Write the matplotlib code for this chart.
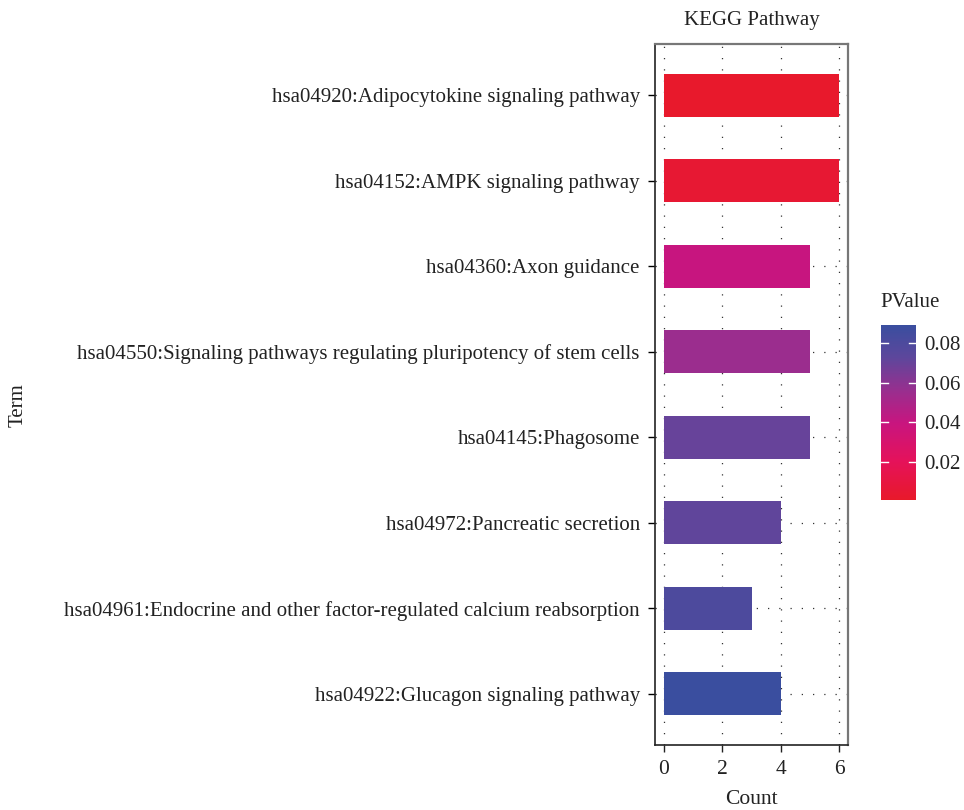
import numpy as np
import matplotlib
matplotlib.use("Agg")
import matplotlib.pyplot as plt
from matplotlib.colors import LinearSegmentedColormap, Normalize
from matplotlib.colorbar import ColorbarBase

plt.rcParams['font.family'] = ['Liberation Serif', 'DejaVu Serif']

terms = [
    "hsa04920:Adipocytokine signaling pathway",
    "hsa04152:AMPK signaling pathway",
    "hsa04360:Axon guidance",
    "hsa04550:Signaling pathways regulating pluripotency of stem cells",
    "hsa04145:Phagosome",
    "hsa04972:Pancreatic secretion",
    "hsa04961:Endocrine and other factor-regulated calcium reabsorption",
    "hsa04922:Glucagon signaling pathway",
]
counts = [6, 6, 5, 5, 5, 4, 3, 4]
pvalues = [0.002, 0.005, 0.040, 0.055, 0.070, 0.072, 0.080, 0.089]
p_ticks = [0.02, 0.04, 0.06, 0.08]

cmap = LinearSegmentedColormap.from_list("pv", [
    (0.0, "#E8192A"), (0.22, "#E5125A"), (0.44, "#C8157F"),
    (0.62, "#9A2E8E"), (0.82, "#5C479C"), (1.0, "#3A4E9F")])
norm = Normalize(vmin=0.001, vmax=0.089)

fig = plt.figure(figsize=(9.64, 8.1), dpi=100)
ax = fig.add_axes([0.6795, 0.0802, 0.2002, 0.8654])

n = len(terms)
ypos = np.arange(n, 0, -1)

# dotted grid under the bars
for x in [0, 2, 4, 6]:
    ax.axvline(x, color="#333333", lw=0.9, ls=(0, (1, 8)), zorder=0)
for y in ypos:
    ax.axhline(y, color="#333333", lw=0.9, ls=(0, (1, 8)), zorder=0)

ax.barh(ypos, counts, height=0.5, color=[cmap(norm(p)) for p in pvalues], zorder=2)

ax.set_xlim(-0.3, 6.3)
ax.set_ylim(0.4, n + 0.6)
ax.set_xticks([0, 2, 4, 6])
ax.set_yticks(ypos)
ax.set_yticklabels(terms, fontsize=15, color="#222222")
ax.tick_params(axis="x", labelsize=15.5, colors="#222222", length=5, width=1, pad=6)
ax.tick_params(axis="y", length=5, width=1, pad=6)

for side in ["left", "bottom"]:
    ax.spines[side].set_color("#222222")
    ax.spines[side].set_linewidth(1.2)
for side in ["top", "right"]:
    ax.spines[side].set_color("#777777")
    ax.spines[side].set_linewidth(1.6)

ax.set_title("KEGG Pathway", fontsize=15, color="#222222", pad=14)
ax.set_xlabel("Count", fontsize=15.5, color="#222222", labelpad=8)
fig.text(0.019, 0.5, "Term", rotation=90, fontsize=15, color="#222222",
         ha="center", va="center")

cax = fig.add_axes([0.9139, 0.3827, 0.0363, 0.216])
cb = ColorbarBase(cax, cmap=cmap, norm=norm, orientation="vertical")
cb.set_ticks(p_ticks)
cb.set_ticklabels(["%.2f" % t for t in p_ticks])
cb.outline.set_visible(False)
cax.tick_params(length=0, labelsize=15, colors="#222222", pad=6)
for t in p_ticks:
    cax.plot([0, 0.2], [t, t], color="white", lw=1, transform=cax.get_yaxis_transform())
    cax.plot([0.8, 1.0], [t, t], color="white", lw=1, transform=cax.get_yaxis_transform())
fig.text(0.913, 0.615, "PValue", fontsize=15, color="#222222", ha="left", va="bottom")

fig.savefig("out.png", dpi=100)
